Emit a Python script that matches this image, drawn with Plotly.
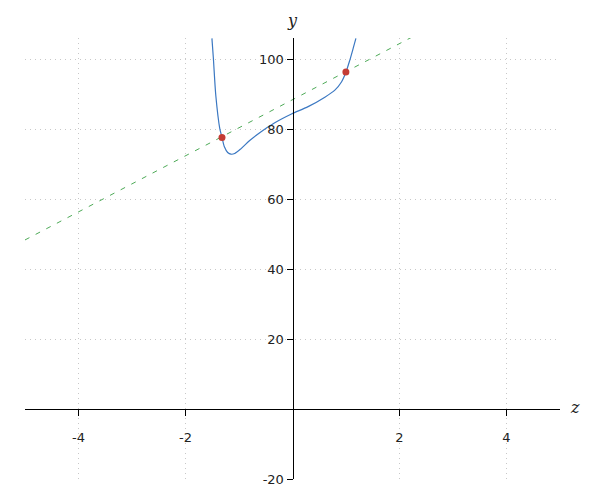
import plotly.graph_objects as go

# curve points
curve_x = [-1.506, -1.479, -1.433, -1.360, -1.318, -1.273, -1.212, -1.150, -1.080, -0.960,
           -0.800, -0.600, -0.331, -0.019, 0.292, 0.605, 0.792, 0.918, 0.998,
           1.072, 1.135, 1.185]
curve_y = [105.9, 100.2, 89.5, 80.2, 77.6, 74.9, 73.3, 72.8, 73.0, 74.4,
           76.7, 79.1, 81.8, 84.3, 86.4, 89.1, 91.1, 93.5, 96.2,
           99.7, 103.1, 105.9]

# intersection points
pts_x = [-1.318, 0.998]
pts_y = [77.6, 96.3]

# secant line endpoints
line_x = [-5.0, 2.25]
line_y = [48.3, 106.4]

x_ticks = [-4, -2, 2, 4]
y_ticks = [-20, 20, 40, 60, 80, 100]

fig = go.Figure()
fig.add_trace(go.Scatter(x=line_x, y=line_y, mode="lines",
                         line=dict(color="#4daa57", width=1, dash="5px,7px"),
                         hoverinfo="skip", showlegend=False))
fig.add_trace(go.Scatter(x=curve_x, y=curve_y, mode="lines",
                         line=dict(color="#3b78c2", width=1.2, shape="spline", smoothing=0.8),
                         showlegend=False))
fig.add_trace(go.Scatter(x=pts_x, y=pts_y, mode="markers",
                         marker=dict(color="#c43c35", size=7),
                         showlegend=False))

yr = [-20, 106]
xr = [-5, 5]
fig.update_layout(
    width=600, height=500,
    margin=dict(l=17, r=48, t=30, b=29),
    paper_bgcolor="white", plot_bgcolor="white",
    font=dict(family="DejaVu Sans", size=13, color="#222"),
    xaxis=dict(range=xr, tickvals=x_ticks, ticktext=[str(v) for v in x_ticks],
               showgrid=True, gridcolor="#c8c8c8", griddash="1px,4px", gridwidth=1,
               zeroline=False, showline=True, linecolor="black", linewidth=1,
               ticks="outside", ticklen=6, tickcolor="black", automargin=False,
               anchor="free", position=(0 - yr[0]) / (yr[1] - yr[0]),
               ticklabelstandoff=10),
    yaxis=dict(range=yr, tickvals=y_ticks, ticktext=[str(v) for v in y_ticks],
               showgrid=True, gridcolor="#c8c8c8", griddash="1px,4px", gridwidth=1,
               zeroline=False, showline=True, linecolor="black", linewidth=1,
               ticks="outside", ticklen=6, tickcolor="black", automargin=False,
               anchor="free", position=(0 - xr[0]) / (xr[1] - xr[0])),
    annotations=[
        dict(text="<i>y</i>", x=0, xref="x", y=1, yref="paper", yanchor="bottom",
             yshift=6, showarrow=False, font=dict(family="DejaVu Serif", size=16, color="#222")),
        dict(text="<i>z</i>", x=1, xref="paper", y=0, yref="y", xanchor="left",
             xshift=8, yshift=2, showarrow=False, font=dict(family="DejaVu Serif", size=16, color="#222")),
    ],
)
fig.write_html("out.html")
